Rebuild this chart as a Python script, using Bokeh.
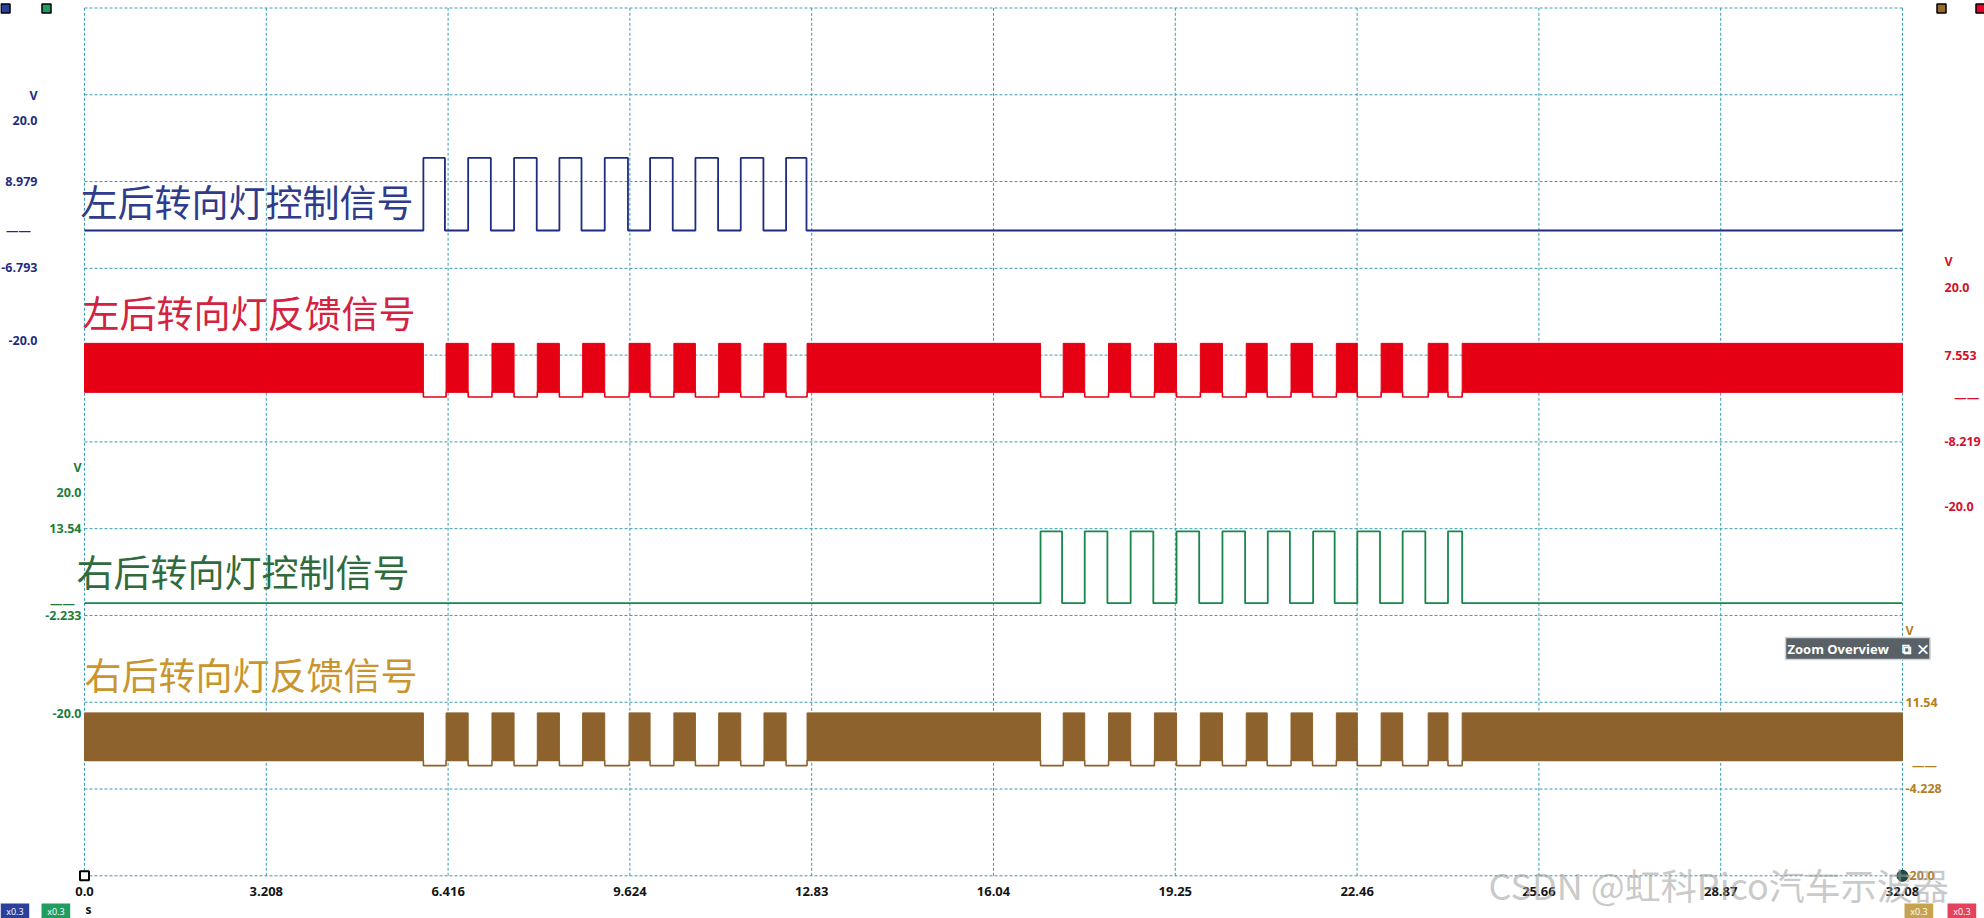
from bokeh.plotting import figure
from bokeh.models import (Range1d, FixedTicker, ColumnDataSource, Label, Grid, LinearAxis)
from bokeh.embed import file_html
from bokeh.resources import INLINE

# ---------------- data ----------------
T_END = 32.08
time_ticks = [0.0, 3.208, 6.416, 9.624, 12.832, 16.04, 19.248, 22.456, 25.664, 28.872, 32.08]
time_tick_labels = ["0.0", "3.208", "6.416", "9.624", "12.83", "16.04", "19.25", "22.46", "25.66", "28.87", "32.08"]
divisions = list(range(11))

# left turn lamp control signal (V)
left_ctrl_rise = [5.98, 6.77, 7.58, 8.38, 9.18, 9.98, 10.78, 11.58, 12.38]
left_ctrl_fall = [6.36, 7.17, 7.98, 8.77, 9.59, 10.38, 11.18, 11.98, 12.74]
left_ctrl_high = 13.2

# right turn lamp control signal (V)
right_ctrl_rise = [16.87, 17.65, 18.46, 19.27, 20.08, 20.88, 21.68, 22.46, 23.26, 24.06]
right_ctrl_fall = [17.25, 18.05, 18.86, 19.67, 20.48, 21.27, 22.06, 22.86, 23.66, 24.31]
right_ctrl_high = 13.0

# feedback signals: dense PWM band, drops to 0 V during lamp-on gaps
fb_gap_start = [5.98, 6.77, 7.58, 8.38, 9.18, 9.98, 10.78, 11.58, 12.38,
                16.87, 17.65, 18.46, 19.27, 20.08, 20.87, 21.67, 22.46, 23.26, 24.06]
fb_gap_end = [6.38, 7.19, 7.99, 8.79, 9.61, 10.40, 11.19, 11.99, 12.75,
              17.27, 18.07, 18.88, 19.69, 20.50, 21.29, 22.09, 22.88, 23.71, 24.31]
left_fb_band = [0.9, 9.8]
right_fb_band = [0.95, 9.6]

# per-channel scale labels
blue_ticks = [24.55, 20.0, 8.979, 0.0, -6.793, -20.0]
blue_tick_labels = ["V", "20.0", "8.979", "——\u00a0\u00a0", "-6.793", "-20.0"]
red_ticks = [24.8, 20.0, 7.553, 0.0, -8.219, -20.0]
red_tick_labels = ["V", "20.0", "7.553", "\u00a0\u00a0\u00a0——", "-8.219", "-20.0"]
green_ticks = [24.46, 20.0, 13.54, 0.0, -2.233, -20.0]
green_tick_labels = ["V", "20.0", "13.54", "——\u00a0\u00a0", "-2.233", "-20.0"]
gold_ticks = [24.6, 20.0, 11.54, 0.0, -4.228, -20.0]
gold_tick_labels = ["V", "20.0", "11.54", "\u00a0\u00a0——", "-4.228", "-20.0"]

titles = ["左后转向灯控制信号", "左后转向灯反馈信号", "右后转向灯控制信号", "右后转向灯反馈信号"]

# ---------------- colours ----------------
C_BLUE, C_BLUE_T = "#1d2b80", "#2f3b8c"
C_RED, C_RED_T = "#e50014", "#d42340"
C_GREEN, C_GREEN_T = "#17884a", "#2f6b3c"
C_GOLD, C_GOLD_T = "#8d622d", "#c9952f"
C_GRID = "#3c9db3"

# ---------------- geometry (pixels) ----------------
W, H = 1984, 918
PX_L, PX_R, PX_T, PX_B = 84.0, 1902.0, 7.5, 875.3
K = T_END / (PX_R - PX_L)
PPD = (PX_B - PX_T) / 10.0


def px2x(px):
    return (px - PX_L) * K


def py2d(py):
    return (PX_B - py) / PPD


def vrange(zero_px, ppv):
    return Range1d(-(H - zero_px) / ppv, zero_px / ppv)


p = figure(width=W, height=H, output_backend="svg", toolbar_location=None,
           x_range=Range1d(px2x(0), px2x(W)), y_range=Range1d(py2d(H), py2d(0)),
           x_axis_location=None, y_axis_location=None, min_border=0,
           background_fill_color="white", border_fill_color="white")
p.outline_line_color = None
p.center = [r for r in p.center if not isinstance(r, Grid)]

p.extra_y_ranges = {
    "blue": vrange(230.0, 5.5),
    "red": vrange(396.5, 5.475),
    "green": vrange(602.7, 5.5325),
    "gold": vrange(765.1, 5.492),
}

# grid (dashed, including the border of the plot area)
gx = [[t, t] for t in time_ticks] + [[0.0, T_END] for _ in divisions]
gy = [[0.0, 10.0] for _ in time_ticks] + [[float(d), float(d)] for d in divisions]
p.multi_line(gx, gy, line_color=C_GRID, line_dash="3 2", line_width=1)


def style_axis(ax, color, size="13px", bold=False):
    ax.axis_line_color = None
    ax.major_tick_line_color = None
    ax.minor_tick_line_color = None
    ax.major_tick_out = 0
    ax.major_tick_in = 0
    ax.minor_tick_out = 0
    ax.minor_tick_in = 0
    ax.major_label_text_font = "Open Sans"
    ax.major_label_text_font_size = size
    ax.major_label_text_font_style = "bold" if bold else "normal"
    ax.major_label_text_color = color


# time axis
xa = LinearAxis(ticker=FixedTicker(ticks=time_ticks), fixed_location=0.0,
                major_label_overrides=dict(zip(time_ticks, time_tick_labels)),
                major_label_standoff=11)
style_axis(xa, "#151515", bold=True)
p.add_layout(xa, "below")


def chan_axis(rng, ticks, labels, loc_px, standoff, side, color):
    ax = LinearAxis(y_range_name=rng, ticker=FixedTicker(ticks=ticks),
                    major_label_overrides=dict(zip(ticks, labels)),
                    fixed_location=px2x(loc_px), major_label_standoff=standoff)
    style_axis(ax, color, size="12.5px", bold=True)
    p.add_layout(ax, side)


chan_axis("blue", blue_ticks, blue_tick_labels, 44, 7, "left", "#1f2d80")
chan_axis("green", green_ticks, green_tick_labels, 84, 3, "left", "#1a7d3c")
chan_axis("red", red_ticks, red_tick_labels, 1938, 6, "right", "#d3102c")
chan_axis("gold", gold_ticks, gold_tick_labels, 1902, 3, "right", "#b27f1e")


def pulse_line(rise, fall, high):
    xs, ys = [0.0], [0.0]
    for r, f in zip(rise, fall):
        xs += [r, r, f, f]
        ys += [0.0, high, high, 0.0]
    xs.append(T_END)
    ys.append(0.0)
    return xs, ys


def band(gs, ge, lo, hi, color, rng):
    lefts = [0.0] + ge
    rights = gs + [T_END]
    src = ColumnDataSource(dict(left=lefts, right=rights, bottom=[lo] * len(lefts), top=[hi] * len(lefts)))
    p.quad(left="left", right="right", bottom="bottom", top="top", source=src,
           fill_color=color, line_color=color, line_width=1, y_range_name=rng)
    xs, ys = [0.0], [lo]
    for s, e in zip(gs, ge):
        xs += [s, s, e, e]
        ys += [lo, 0.0, 0.0, lo]
    xs.append(T_END)
    ys.append(lo)
    p.line(xs, ys, line_color=color, line_width=1.6, y_range_name=rng)


bx, by = pulse_line(left_ctrl_rise, left_ctrl_fall, left_ctrl_high)
p.line(bx, by, line_color=C_BLUE, line_width=1.8, y_range_name="blue")
band(fb_gap_start, fb_gap_end, left_fb_band[0], left_fb_band[1], C_RED, "red")
gx2, gy2 = pulse_line(right_ctrl_rise, right_ctrl_fall, right_ctrl_high)
p.line(gx2, gy2, line_color=C_GREEN, line_width=1.8, y_range_name="green")
band(fb_gap_start, fb_gap_end, right_fb_band[0], right_fb_band[1], C_GOLD, "gold")

# channel titles (screen units: x from left, y from bottom)
title_pos = [(80, H - 200), (82, H - 311), (76, H - 570), (84, H - 673)]
title_cols = [C_BLUE_T, C_RED_T, C_GREEN_T, C_GOLD_T]
for t, (tx, ty), c in zip(titles, title_pos, title_cols):
    p.add_layout(Label(x=tx, y=ty, x_units="screen", y_units="screen", text=t,
                       text_font="Noto Sans CJK SC", text_font_size="37px",
                       text_color=c, text_baseline="middle", text_align="left"))

# corner markers of the screen
p.scatter([0.0], [0.0], marker="square", size=9, fill_color="white", line_color="black", line_width=2)
p.scatter([T_END], [0.0], marker="circle", size=11, fill_color="#1d4f49", line_color="#0e2f2c", line_width=1)

# channel colour chips on top
chip_px = [5, 46, 1941, 1980]
chip_cols = ["#2b3f9c", "#1f9e62", "#9a6a2a", "#e5002a"]
p.scatter([px2x(c) for c in chip_px], [py2d(8)] * 4, marker="square", size=9,
          fill_color=chip_cols, line_color="black", line_width=1.5)

# units label
p.add_layout(Label(x=85, y=H - 909, x_units="screen", y_units="screen", text="s",
                   text_font="Open Sans", text_font_size="12px", text_font_style="bold",
                   text_color="#111111", text_baseline="middle"))

# channel badges
for bx_, col in [(0, "#2b3f9c"), (41, "#1f9e62"), (1904, "#c7a24f"), (1947, "#e5435d")]:
    p.add_layout(Label(x=bx_, y=0, x_units="screen", y_units="screen",
                       text="\u00a0\u00a0x0.3\u00a0\u00a0",
                       text_font="Open Sans", text_font_size="9px", text_color="white",
                       background_fill_color=col, padding=1, text_baseline="bottom"))

# zoom overview box
p.add_layout(Label(x=1785, y=H - 659, x_units="screen", y_units="screen",
                   text="Zoom Overview\u00a0\u00a0\u00a0\u00a0⧉\u00a0\u00a0✕",
                   text_font="Open Sans", text_font_size="13px", text_font_style="bold",
                   text_color="white", background_fill_color="#596066",
                   border_line_color="#cfd4d8", border_line_width=1.5, padding=2,
                   text_baseline="bottom"))

# watermark
p.add_layout(Label(x=1488, y=H - 883, x_units="screen", y_units="screen", text="CSDN @虹科Pico汽车示波器",
                   text_font="Noto Sans CJK SC", text_font_size="36px",
                   text_color="#9c9c9c", text_alpha=0.55, text_baseline="middle"))

open("out.html", "w").write(file_html(p, INLINE))
